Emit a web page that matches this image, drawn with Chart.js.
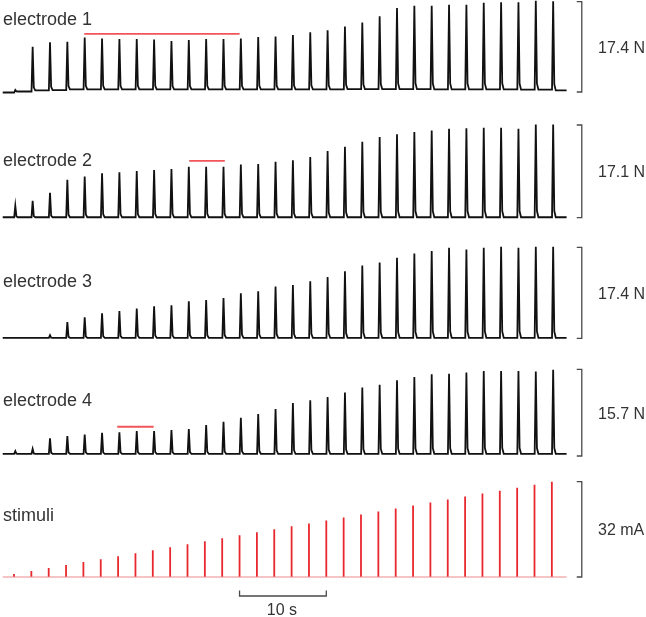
<!DOCTYPE html>
<html><head><meta charset="utf-8">
<script src="https://cdn.jsdelivr.net/npm/chart.js@4.4.1/dist/chart.umd.min.js"></script>
<style>html,body{margin:0;padding:0;background:#fff;overflow:hidden}canvas{display:block}</style>
</head><body>
<canvas id="c" width="646" height="617"></canvas>
<script>
// ---------------- data ----------------
const panelNames = ['electrode 1', 'electrode 2', 'electrode 3', 'electrode 4', 'stimuli'];
const scaleLabels = ['17.4 N', '17.1 N', '17.4 N', '15.7 N', '32 mA'];
const scaleValues = [17.4, 17.1, 17.4, 15.7, 32];

// stimulus times (s)
const pulseTimes = [0, 2, 4, 6, 8, 10, 12, 14, 16, 18, 20, 22, 24, 26, 28, 30,
                    32, 34, 36, 38, 40, 42, 44, 46, 48, 50, 52, 54, 56, 58, 60, 62];
// stimulus amplitude (mA)
const stimAmps = [1, 2, 3, 4, 5, 6, 7, 8, 9, 10, 11, 12, 13, 14, 15, 16,
                  17, 18, 19, 20, 21, 22, 23, 24, 25, 26, 27, 28, 29, 30, 31, 32];

// peak force per pulse (N)
const e1Peaks = [0.4, 8.7, 9.6, 9.7, 10.5, 10.3, 10.2, 10.2, 10.1, 9.8, 10.0, 10.2, 10.2, 10.3, 10.6, 10.7,
                 11.0, 11.5, 11.9, 12.6, 13.4, 14.6, 16.2, 16.6, 16.6, 16.8, 16.8, 17.2, 17.3, 17.3, 17.6, 17.5];
const e2Peaks = [2.2, 3.1, 4.6, 7.0, 7.6, 8.2, 8.4, 8.6, 8.8, 9.0, 9.4, 9.4, 9.4, 9.8, 9.9, 10.3,
                 10.6, 11.2, 12.3, 13.1, 14.0, 14.9, 15.4, 15.8, 16.1, 16.4, 16.5, 16.6, 16.6, 16.4, 17.2, 17.2];
const e3Peaks = [0.1, 0.1, 0.6, 3.1, 4.0, 4.8, 5.2, 5.7, 6.1, 6.3, 7.1, 7.3, 7.7, 8.6, 9.0, 9.9,
                 10.2, 10.9, 11.7, 12.8, 13.9, 14.5, 15.4, 16.2, 16.7, 17.3, 17.0, 17.3, 17.5, 17.3, 17.5, 17.5];
const e4Peaks = [0.9, 1.3, 3.2, 3.6, 3.9, 4.2, 4.3, 4.5, 4.5, 4.7, 4.9, 5.6, 6.2, 6.9, 7.6, 8.5,
                 9.6, 10.1, 10.7, 11.5, 12.4, 12.9, 13.7, 14.3, 14.8, 14.9, 15.1, 15.4, 15.4, 15.4, 15.3, 15.6];

// resting level between pulses (N): before the first pulse, then after each pulse
const e1Base = [-0.1, 0.1, 0.3, 0.35, 0.5, 0.5, 0.5, 0.5, 0.5, 0.5, 0.5, 0.5, 0.5, 0.5, 0.5, 0.5, 0.5,
                0.5, 0.5, 0.5, 0.55, 0.55, 0.55, 0.55, 0.55, 0.5, 0.5, 0.5, 0.5, 0.5, 0.45, 0.45, 0.3];
const e2Base = 0.08;
const e3Base = 0.1;
const e4Base = 0.4;

// red reference bars: [start s, end s, level N]
const mark1 = [8.1, 26.0, 11.2];
const mark2 = [20.2, 24.3, 10.5];
const mark4 = [11.9, 16.1, 5.3];

// time scale bar (s)
const timeBarStart = 26;
const timeBarLength = 10;
const timeBarLabel = '10 s';

const traceStart = -1.3, traceEnd = 63.7;
const responseDelay = 0.15;

// ---------------- layout ----------------
const W = 646, H = 617;
const xOrigin = 14, pxPerSec = 8.675;
const panelBox = [
  {bottom: 92,    top: 1.7,   labelY: 25},
  {bottom: 217.7, top: 125,   labelY: 166},
  {bottom: 338.3, top: 247.3, labelY: 287},
  {bottom: 456,   top: 369.3, labelY: 405.5},
  {bottom: 577,   top: 481.7, labelY: 520.7}
];
const bracketX = 65.45, bracketTick = 0.58;

const yScales = {};
panelBox.forEach((p, i) => {
  const ppu = (p.bottom - p.top) / scaleValues[i];
  p.ppu = ppu;
  const max = p.bottom / ppu;
  yScales['y' + (i + 1)] = {type: 'linear', display: false, min: max - H / ppu, max: max};
});

function buildTrace(peaks, base) {
  const b = i => Array.isArray(base) ? base[i] : base;
  const pts = [{x: traceStart, y: b(0)}];
  peaks.forEach((p, k) => {
    const t = pulseTimes[k] + responseDelay;
    const b0 = b(k), b1 = b(k + 1);
    pts.push({x: t - 0.13, y: b0}, {x: t, y: p}, {x: t + 0.13, y: b1 + 0.07 * (p - b1)}, {x: t + 0.3, y: b1});
  });
  pts.push({x: traceEnd, y: b(peaks.length)});
  return pts;
}
function stimSpikes() {
  const pts = [];
  stimAmps.forEach((a, k) => {
    pts.push({x: pulseTimes[k], y: 0}, {x: pulseTimes[k], y: a}, {x: pulseTimes[k], y: null});
  });
  return pts;
}
function bracket(v) {
  return [{x: bracketX - bracketTick, y: 0}, {x: bracketX, y: 0}, {x: bracketX, y: v}, {x: bracketX - bracketTick, y: v}];
}
function mark(m) { return [{x: m[0], y: m[2]}, {x: m[1], y: m[2]}]; }

const black = '#111111', red = '#e8282f', markRed = '#f05558', gray = '#4a4a4a';
const common = {pointRadius: 0, tension: 0, fill: false, spanGaps: false};
const datasets = [
  {...common, data: buildTrace(e1Peaks, e1Base), yAxisID: 'y1', borderColor: black, borderWidth: 1.8},
  {...common, data: buildTrace(e2Peaks, e2Base), yAxisID: 'y2', borderColor: black, borderWidth: 1.8},
  {...common, data: buildTrace(e3Peaks, e3Base), yAxisID: 'y3', borderColor: black, borderWidth: 1.8},
  {...common, data: buildTrace(e4Peaks, e4Base), yAxisID: 'y4', borderColor: black, borderWidth: 1.8},
  {...common, data: [{x: traceStart, y: 0}, {x: traceEnd, y: 0}], yAxisID: 'y5', borderColor: '#f08a8c', borderWidth: 1.2},
  {...common, data: stimSpikes(), yAxisID: 'y5', borderColor: red, borderWidth: 1.8},
  {...common, data: mark(mark1), yAxisID: 'y1', borderColor: markRed, borderWidth: 1.8},
  {...common, data: mark(mark2), yAxisID: 'y2', borderColor: markRed, borderWidth: 1.8},
  {...common, data: mark(mark4), yAxisID: 'y4', borderColor: markRed, borderWidth: 1.8}
];
scaleValues.forEach((v, i) => {
  datasets.push({...common, data: bracket(v), yAxisID: 'y' + (i + 1), borderColor: gray, borderWidth: 1.3});
});
// time scale bar in stimuli panel units
const p5 = panelBox[4];
const barY = -(596 - p5.bottom) / p5.ppu, tickY = -(590.5 - p5.bottom) / p5.ppu;
datasets.push({...common, yAxisID: 'y5', borderColor: gray, borderWidth: 1.3,
  data: [{x: timeBarStart, y: tickY}, {x: timeBarStart, y: barY},
         {x: timeBarStart + timeBarLength, y: barY}, {x: timeBarStart + timeBarLength, y: tickY}]});

const labelPlugin = {
  id: 'labels',
  afterDatasetsDraw(chart) {
    const ctx = chart.ctx;
    const xs = chart.scales.x;
    ctx.save();
    ctx.fillStyle = '#333';
    ctx.textBaseline = 'alphabetic';
    ctx.font = '18px "Liberation Sans", Arial, sans-serif';
    ctx.textAlign = 'left';
    panelNames.forEach((n, i) => ctx.fillText(n, 3, panelBox[i].labelY));
    ctx.font = '16px "Liberation Sans", Arial, sans-serif';
    scaleLabels.forEach((s, i) => {
      const ys = chart.scales['y' + (i + 1)];
      const mid = ys.getPixelForValue(scaleValues[i] / 2);
      ctx.fillText(s, 598, mid + 6);
    });
    ctx.textAlign = 'center';
    const cx = (xs.getPixelForValue(timeBarStart) + xs.getPixelForValue(timeBarStart + timeBarLength)) / 2;
    ctx.fillText(timeBarLabel, cx - 1, 615);
    ctx.restore();
  }
};

new Chart(document.getElementById('c'), {
  type: 'line',
  data: {datasets},
  options: {
    responsive: false, animation: false, devicePixelRatio: 1,
    layout: {padding: 0},
    plugins: {legend: {display: false}, tooltip: {enabled: false}},
    events: [],
    scales: Object.assign({
      x: {type: 'linear', display: false, min: -xOrigin / pxPerSec, max: (W - xOrigin) / pxPerSec}
    }, yScales)
  },
  plugins: [labelPlugin]
});
</script>
</body></html>
